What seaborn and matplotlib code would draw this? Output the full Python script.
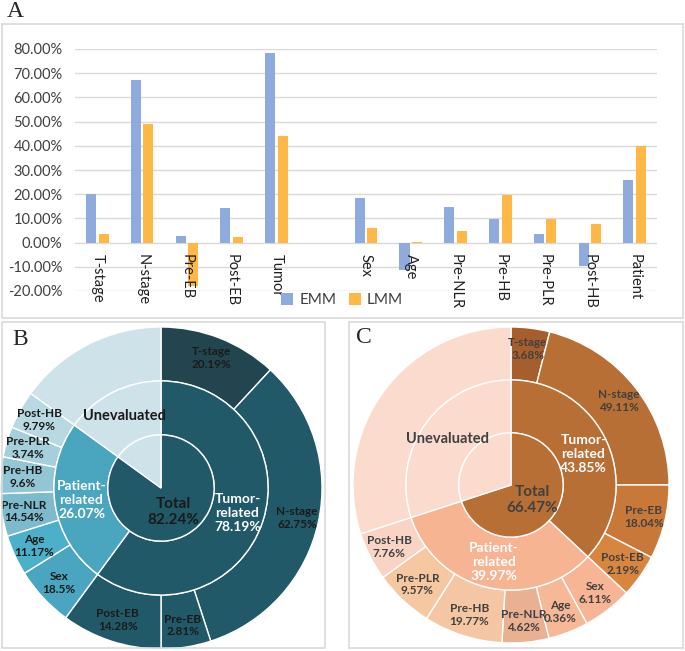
import numpy as np
import pandas as pd
import matplotlib
matplotlib.use("Agg")
import matplotlib.pyplot as plt
import matplotlib.transforms as mtransforms
from matplotlib.patches import Rectangle
import seaborn as sns

# ---------------- data: panel A ----------------
categories = ["T-stage", "N-stage", "Pre-EB", "Post-EB", "Tumor", " ",
              "Sex", "Age", "Pre-NLR", "Pre-HB", "Pre-PLR", "Post-HB", "Patient"]
emm_values = [20.19, 67.30, 2.81, 14.28, 78.19, np.nan,
              18.50, -11.17, 14.54, 9.60, 3.74, -9.79, 26.07]
lmm_values = [3.68, 49.11, -18.04, 2.19, 43.85, np.nan,
              6.11, 0.36, 4.62, 19.77, 9.57, 7.76, 39.97]
series_names = ["EMM", "LMM"]
ytick_values = [-20, -10, 0, 10, 20, 30, 40, 50, 60, 70, 80]

# ---------------- data: panel B (EMM sunburst) ----------------
b_outer_labels = ["T-stage\n20.19%", "N-stage\n62.75%", "Pre-EB\n2.81%", "Post-EB\n14.28%",
                  "Sex\n18.5%", "Age\n11.17%", "Pre-NLR\n14.54%", "Pre-HB\n9.6%",
                  "Pre-PLR\n3.74%", "Post-HB\n9.79%", ""]
b_outer_sizes = [42.8, 119.2, 18.0, 36.3, 21.7, 14.6, 15.4, 13.2, 11.0, 13.8, 54.0]
b_mid_labels = ["Tumor-\nrelated\n78.19%", "Patient-\nrelated\n26.07%", "Unevaluated"]
b_mid_sizes = [216.3, 89.7, 54.0]
b_inner_labels = ["Total\n82.24%", ""]
b_inner_sizes = [306.0, 54.0]

# ---------------- data: panel C (LMM sunburst) ----------------
c_outer_labels = ["T-stage\n3.68%", "N-stage\n49.11%", "Pre-EB\n18.04%", "Post-EB\n2.19%",
                  "Sex\n6.11%", "Age\n0.36%", "Pre-NLR\n4.62%", "Pre-HB\n19.77%",
                  "Pre-PLR\n9.57%", "Post-HB\n7.76%", ""]
c_outer_sizes = [14.2, 75.8, 27.3, 15.8, 18.2, 14.8, 17.2, 29.0, 21.9, 17.8, 108.0]
c_mid_labels = ["Tumor-\nrelated\n43.85%", "Patient-\nrelated\n39.97%", "Unevaluated"]
c_mid_sizes = [133.1, 118.9, 108.0]
c_inner_labels = ["Total\n66.47%", ""]
c_inner_sizes = [252.0, 108.0]

# ---------------- styles ----------------
bar_colors = {"EMM": "#8FAADC", "LMM": "#FFB845"}
b_outer_colors = ["#23454F", "#215968", "#215968", "#215968",
                  "#4AA6C0", "#4DB0CA", "#7DBACD", "#93C5D5", "#A6CFDC", "#B8D8E2", "#CDE2E9"]
b_mid_colors = ["#215968", "#4AA5BF", "#CDE2E9"]
b_inner_colors = ["#215968", "#CDE2E9"]
c_outer_colors = ["#A65F2C", "#B86F35", "#C8793A", "#D8853F",
                  "#F8B595", "#F7B898", "#E9B192", "#F4C6A3", "#F6C8A1", "#F9D4C4", "#FBDBCE"]
c_mid_colors = ["#B86F35", "#F7B493", "#FBDBCE"]
c_inner_colors = ["#B86F35", "#FBDBCE"]

sns.set_style("white")
plt.rcParams["font.family"] = ["Lato", "DejaVu Sans"]

W, H = 685, 651
fig = plt.figure(figsize=(W / 100, H / 100), dpi=100)


def px(l, t, w, h):
    return [l / W, 1 - (t + h) / H, w / W, h / H]


# panel frames
for (l, t, w, h) in [(2, 24, 681, 294), (2, 322, 323, 326), (349, 322, 334, 326)]:
    fig.patches.append(Rectangle((l / W, 1 - (t + h) / H), w / W, h / H,
                                 transform=fig.transFigure, fill=False,
                                 edgecolor="#D9D9D9", lw=1.2))

serif = ["Liberation Serif", "DejaVu Serif"]
fig.text(7 / W, 1 - 1 / H, "A", family=serif, fontsize=17, va="top", ha="left")
fig.text(12 / W, 1 - 329 / H, "B", family=serif, fontsize=17, va="top", ha="left")
fig.text(356 / W, 1 - 327 / H, "C", family=serif, fontsize=17, va="top", ha="left")

# ---------------- panel A ----------------
df = pd.DataFrame({
    "Category": categories * 2,
    "Model": [series_names[0]] * len(categories) + [series_names[1]] * len(categories),
    "Value": emm_values + lmm_values,
})
axA = fig.add_axes(px(75, 49, 582, 242))
sns.barplot(data=df, x="Category", y="Value", hue="Model", order=categories,
            hue_order=series_names, palette=bar_colors, width=0.56, gap=0.2,
            saturation=1, errorbar=None, linewidth=0, ax=axA, zorder=3)
axA.set_ylim(-20, 80)
axA.set_xlim(-0.5, len(categories) - 0.5)
axA.set_yticks(ytick_values)
axA.set_yticklabels([f"{v:.2f}%" for v in ytick_values], fontsize=10.5, color="#404040")
axA.tick_params(axis="y", length=0, pad=9)
axA.set_xticks([])
axA.set_xlabel("")
axA.set_ylabel("")
axA.yaxis.grid(True, color="#D9D9D9", lw=1)
axA.set_axisbelow(True)
for s in axA.spines.values():
    s.set_visible(False)
off = mtransforms.offset_copy(axA.transData, fig=fig, x=0, y=-11, units="dots")
for i, lab in enumerate(categories):
    axA.text(i, 0, lab, rotation=270, ha="center", va="top", fontsize=10.5,
             color="#202020", transform=off, zorder=5)
leg = axA.legend(loc="center", bbox_to_anchor=(0.459, -0.037), ncol=2, frameon=False,
                 handlelength=0.8, handleheight=0.8, handletextpad=0.4, columnspacing=0.8,
                 fontsize=11)
for t in leg.get_texts():
    t.set_color("#404040")


# ---------------- sunbursts ----------------
def sunburst(rect, outer, mid, inner):
    ax = fig.add_axes(rect)
    rings = [
        # (ring data, outer radius, width, label radius, font sizes)
        (outer, 1.0, 1 - 0.665, 0.865, [8.5] * 11),
        (mid, 0.665, 0.665 - 0.33, 0.5, [10, 10, 10.5]),
        (inner, 0.33, 0.33, 0.165, [11, 11]),
    ]
    for (sizes, labels, colors, tcolors), r, w, rl, fss in rings:
        wedges, _ = ax.pie(sizes, radius=r, colors=colors, startangle=90,
                           counterclock=False,
                           wedgeprops=dict(width=w, edgecolor="white", linewidth=1))
        for wdg, lab, tc, fs in zip(wedges, labels, tcolors, fss):
            if not lab:
                continue
            ang = np.deg2rad((wdg.theta1 + wdg.theta2) / 2)
            ax.text(rl * np.cos(ang), rl * np.sin(ang), lab, ha="center", va="center",
                    fontsize=fs, fontweight="bold", color=tc, linespacing=1.2)
    ax.set_xlim(-1, 1)
    ax.set_ylim(-1, 1)
    ax.set_aspect("equal")
    ax.axis("off")
    return ax


sunburst(px(0, 327, 322, 322),
         (b_outer_sizes, b_outer_labels, b_outer_colors, ["#1A1A1A"] * 11),
         (b_mid_sizes, b_mid_labels, b_mid_colors, ["white", "white", "#1A1A1A"]),
         (b_inner_sizes, b_inner_labels, b_inner_colors, ["#1A1A1A", "#1A1A1A"]))
sunburst(px(353, 327, 316, 316),
         (c_outer_sizes, c_outer_labels, c_outer_colors, ["#404040"] * 11),
         (c_mid_sizes, c_mid_labels, c_mid_colors, ["white", "white", "#404040"]),
         (c_inner_sizes, c_inner_labels, c_inner_colors, ["#404040", "#404040"]))

fig.savefig("out.png", dpi=100)
